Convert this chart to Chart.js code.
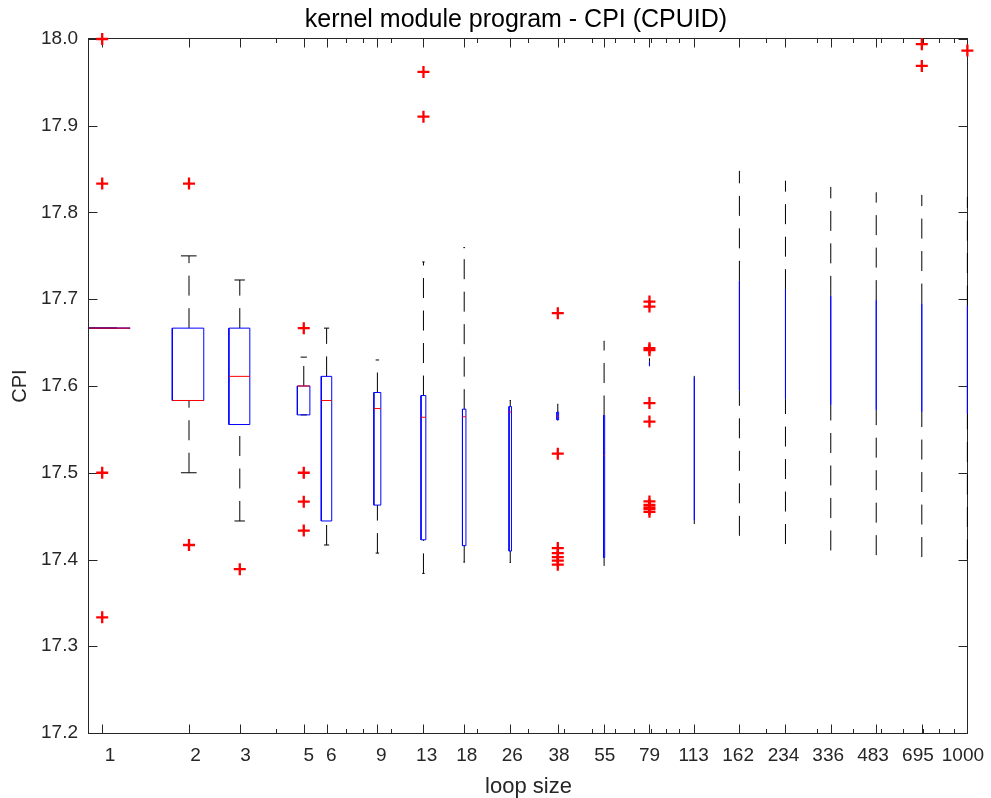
<!DOCTYPE html>
<html>
<head>
<meta charset="utf-8">
<title>kernel module program - CPI (CPUID)</title>
<script src="https://cdn.jsdelivr.net/npm/chart.js@4.4.0/dist/chart.umd.min.js"></script>
<style>
  html, body { margin: 0; padding: 0; background: #fff; }
</style>
</head>
<body>
<canvas id="cpiChart" width="991" height="798"></canvas>
<script>
// Box statistics per loop size
const loopSizes = [1, 2, 3, 5, 6, 9, 13, 18, 26, 38, 55, 79, 113, 162, 234, 336, 483, 695, 1000];
const q1 = [17.6667, 17.5833, 17.5556, 17.5667, 17.4444, 17.4627, 17.4227, 17.4160, 17.4097, 17.5610,
  17.4023, 17.6230, 17.4450, 17.5948, 17.5849, 17.5783, 17.5725, 17.5702, 17.5676];
const medians = [17.6667, 17.5833, 17.6111, 17.6000, 17.5833, 17.5740, 17.5640, 17.5645, 17.5700, 17.5653,
  17.5200, 17.6250, 17.5300, 17.6600, 17.6500, 17.6400, 17.6350, 17.6300, 17.6300];
const q3 = [17.6667, 17.6667, 17.6667, 17.6000, 17.6111, 17.5925, 17.5890, 17.5733, 17.5763, 17.5700,
  17.5660, 17.6280, 17.6102, 17.7212, 17.7116, 17.7039, 17.6990, 17.6950, 17.6927];
const whiskerLow = [17.6667, 17.5000, 17.4444, 17.5667, 17.4167, 17.4074, 17.3840, 17.3970, 17.3966, 17.5610,
  17.3930, 17.6230, 17.4408, 17.4273, 17.4178, 17.4104, 17.4050, 17.4028, 17.4000];
const whiskerHigh = [17.6667, 17.7500, 17.7222, 17.6333, 17.6667, 17.6300, 17.7430, 17.7595, 17.5833, 17.5790,
  17.6517, 17.6320, 17.6117, 17.8480, 17.8367, 17.8295, 17.8233, 17.8203, 17.8180];
const outliers = [
  [18.0000, 17.8333, 17.5000, 17.3333],
  [17.8333, 17.4167],
  [17.3889],
  [17.6667, 17.5000, 17.4667, 17.4333],
  [], [],
  [17.9620, 17.9105],
  [], [],
  [17.6840, 17.5220, 17.4132, 17.4074, 17.4028, 17.3986, 17.3940],
  [],
  [17.6973, 17.6916, 17.6436, 17.6413, 17.5803, 17.5590, 17.4670, 17.4630, 17.4600, 17.4580, 17.4550],
  [], [], [], [], [],
  [17.9940, 17.9690],
  [17.9866]
];
const yTicks = [17.2, 17.3, 17.4, 17.5, 17.6, 17.7, 17.8, 17.9, 18.0];
const titleText = 'kernel module program - CPI (CPUID)';

const boxHalf = 0.25;   // box half width, in loop-size units
const capHalf = 0.125;
const axisColor = '#262626';
const fontFamily = '"Liberation Sans", Arial, Helvetica, sans-serif';

Chart.defaults.font.family = fontFamily;
Chart.defaults.color = axisColor;

// join many short polylines into one dataset, broken by null points
function pieces(fn) {
  var pts = [];
  loopSizes.forEach(function(s, i) {
    fn(s, i).forEach(function(part) {
      pts = pts.concat(part);
      pts.push({x: s, y: null});
    });
  });
  return pts;
}

const boxPts = pieces(function(s, i) {
  return [[
    {x: s - boxHalf, y: q1[i]}, {x: s + boxHalf, y: q1[i]},
    {x: s + boxHalf, y: q3[i]}, {x: s - boxHalf, y: q3[i]},
    {x: s - boxHalf, y: q1[i]}
  ]];
});
const medianPts = pieces(function(s, i) {
  return [[{x: s - boxHalf, y: medians[i]}, {x: s + boxHalf, y: medians[i]}]];
});
const capPts = pieces(function(s, i) {
  return [
    [{x: s - capHalf, y: whiskerLow[i]}, {x: s + capHalf, y: whiskerLow[i]}],
    [{x: s - capHalf, y: whiskerHigh[i]}, {x: s + capHalf, y: whiskerHigh[i]}]
  ];
});
// whiskers are drawn upward, so the dash pattern starts at the lower end
const whiskerPts = pieces(function(s, i) {
  return [
    [{x: s, y: whiskerLow[i]}, {x: s, y: q1[i]}],
    [{x: s, y: q3[i]}, {x: s, y: whiskerHigh[i]}]
  ];
});
const outlierPts = [];
loopSizes.forEach(function(s, i) {
  outliers[i].forEach(function(v) { outlierPts.push({x: s, y: v}); });
});

function lineSet(label, data, color, order, dash) {
  return {
    label: label, data: data, showLine: true, spanGaps: false,
    borderColor: color, borderWidth: 1, borderDash: dash || [],
    pointRadius: 0, pointHoverRadius: 0, order: order
  };
}

// frame, inward ticks, x labels and title, like the original figure
const axisDecor = {
  id: 'axisDecor',
  beforeDatasetsDraw: function(chart) {
    var ctx = chart.ctx, a = chart.chartArea, xs = chart.scales.x, ys = chart.scales.y;
    var L = Math.round(a.left) - 0.5, R = Math.round(a.right) - 0.5;
    var T = Math.round(a.top) - 0.5, B = Math.round(a.bottom) + 0.5;
    ctx.save();
    ctx.strokeStyle = axisColor;
    ctx.lineWidth = 1;
    ctx.strokeRect(L, T, R - L, B - T);
    ctx.beginPath();
    yTicks.forEach(function(v) {
      var py = Math.round(ys.getPixelForValue(v)) + 0.5;
      ctx.moveTo(L, py); ctx.lineTo(L + 9, py);
      ctx.moveTo(R, py); ctx.lineTo(R - 9, py);
    });
    for (var n = 0; n < 3; n++) {
      for (var k = 1; k < 10; k++) {
        var v = k * Math.pow(10, n);
        if (v === 1) continue;
        var px = Math.round(xs.getPixelForValue(v)) + 0.5;
        ctx.moveTo(px, B); ctx.lineTo(px, B - 4.5);
        ctx.moveTo(px, T); ctx.lineTo(px, T + 4.5);
      }
    }
    loopSizes.forEach(function(s) {
      var px = Math.round(xs.getPixelForValue(s)) + 0.5;
      ctx.moveTo(px, B); ctx.lineTo(px, B - 9);
      ctx.moveTo(px, T); ctx.lineTo(px, T + 9);
    });
    ctx.stroke();

    ctx.fillStyle = axisColor;
    ctx.font = '19px ' + fontFamily;
    ctx.textAlign = 'center';
    ctx.textBaseline = 'middle';
    loopSizes.forEach(function(s) {
      var px = xs.getPixelForValue(s) + 7.8 - 4.1 * Math.log10(s);
      ctx.fillText(String(s), px, 756);
    });

    ctx.fillStyle = '#000000';
    ctx.font = '25px ' + fontFamily;
    ctx.textBaseline = 'alphabetic';
    ctx.fillText(titleText, 516, 27);
    ctx.restore();
  }
};

window.onload = function() {
  var ctx = document.getElementById('cpiChart').getContext('2d');
  new Chart(ctx, {
    type: 'scatter',
    data: {
      datasets: [
        {
          label: 'outliers', data: outlierPts, pointStyle: 'cross',
          pointRadius: 6, pointHoverRadius: 6, borderColor: '#ff0000', borderWidth: 2.3,
          clip: false, order: 0
        },
        lineSet('median', medianPts, '#ff0000', 1),
        lineSet('box', boxPts, '#0000ff', 2),
        lineSet('caps', capPts, '#000000', 3),
        lineSet('whiskers', whiskerPts, '#000000', 4, [20, 12.5])
      ]
    },
    plugins: [axisDecor],
    options: {
      responsive: false,
      animation: false,
      events: [],
      layout: { padding: { left: 0, right: 23, top: 39, bottom: 0 } },
      plugins: {
        legend: { display: false },
        tooltip: { enabled: false },
        title: { display: false }
      },
      scales: {
        x: {
          type: 'logarithmic',
          min: 0.9,
          max: 1005,
          bounds: 'data',
          grid: { display: false, drawTicks: false, tickLength: 0 },
          border: { display: false },
          ticks: { display: false },
          title: {
            display: true, text: 'loop size', color: axisColor,
            font: { size: 22 }, padding: { top: 0, bottom: -2 }
          },
          afterFit: function(scale) { scale.height = 65; }
        },
        y: {
          min: 17.2,
          max: 18.0,
          afterBuildTicks: function(scale) {
            scale.ticks = yTicks.map(function(v) { return {value: v}; });
          },
          grid: { display: false, drawTicks: false, tickLength: 0 },
          border: { display: false },
          ticks: {
            padding: 11,
            font: { size: 19 },
            callback: function(v) { return Number(v).toFixed(1); }
          },
          title: {
            display: true, text: 'CPI', color: axisColor,
            font: { size: 20 }, padding: { top: 8, bottom: 0 }
          },
          afterFit: function(scale) { scale.width = 89; }
        }
      }
    }
  });
};
</script>
</body>
</html>
